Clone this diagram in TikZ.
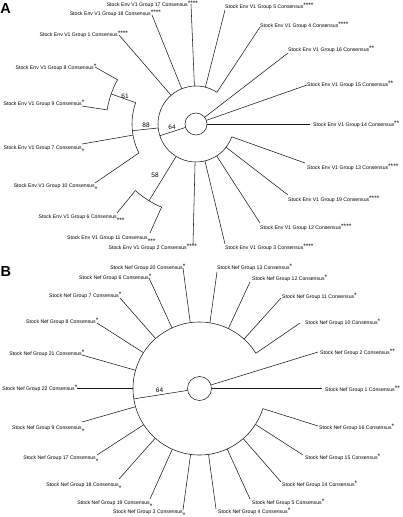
\documentclass[tikz,border=0pt]{standalone}
\usepackage{fontspec}
\setmainfont{Liberation Sans}

\newcommand{\supstars}[1]{\raisebox{1pt}{\fontsize{6.5}{6.5}\selectfont #1}}
\newcommand{\substars}[1]{\raisebox{-4.4pt}{\fontsize{6.5}{6.5}\selectfont #1}}

\begin{document}
\begin{tikzpicture}[x=1pt, y=-1pt,
  branch/.style={draw=black!90, line width=0.55pt},
  leafright/.style={anchor=base west, inner sep=0pt, font=\fontsize{5.15}{6}\selectfont},
  leafleft/.style={anchor=base east, inner sep=0pt, font=\fontsize{5.15}{6}\selectfont},
  support/.style={inner sep=0pt, font=\fontsize{6.5}{7}\selectfont},
  panellabel/.style={anchor=base west, inner sep=0pt, font=\fontsize{14.5}{15}\selectfont\bfseries}]

\useasboundingbox (0,0) rectangle (403,517);

% ---------------- Panel A: Env V1 ----------------
\node[panellabel] (lblA) at (0.3,13.3) {A};
\coordinate (cA) at (196,124);
\draw[branch] (cA) circle (11);

% inner clades with support values
\coordinate (e64s) at ([shift={(-198:11)}]cA);
\coordinate (e64t) at ([shift={(-198:38)}]cA);
\draw[branch] (e64s) -- (e64t);
\draw[branch] ([shift={(-56.6:38)}]cA) arc[start angle=-56.6, end angle=-340.3, radius=38];
\node[support] (e64) at (172,127.5) {64};

\coordinate (e88s) at ([shift={(-186:38)}]cA);
\coordinate (e88t) at ([shift={(-186:64)}]cA);
\draw[branch] (e88s) -- (e88t);
\draw[branch] ([shift={(-160.5:64)}]cA) arc[start angle=-160.5, end angle=-206.9, radius=64];
\node[support] (e88) at (146,125) {88};

\coordinate (e61s) at ([shift={(-160.5:64)}]cA);
\coordinate (e61t) at ([shift={(-160.5:90)}]cA);
\draw[branch] (e61s) -- (e61t);
\draw[branch] ([shift={(-150.6:90)}]cA) arc[start angle=-150.6, end angle=-171, radius=90];
\node[support] (e61) at (125,96) {61};

\coordinate (e58s) at ([shift={(-238.5:38)}]cA);
\coordinate (e58t) at ([shift={(-238.5:90)}]cA);
\draw[branch] (e58s) -- (e58t);
\draw[branch] ([shift={(-227.7:90)}]cA) arc[start angle=-227.7, end angle=-247.5, radius=90];
\node[support] (e58) at (155,175) {58};

% leaves off the root
\coordinate (e14s) at ([shift={(0:11)}]cA);
\coordinate (e14t) at (310,124);
\draw[branch] (e14s) -- (e14t);
\node[leafright] (e14) at (313,126.5) {Stock Env V1 Group 14 Consensus\supstars{**}};
\coordinate (e15s) at ([shift={(-19.4:11)}]cA);
\coordinate (e15t) at (307,85);
\draw[branch] (e15s) -- (e15t);
\node[leafright] (e15) at (307,86.5) {Stock Env V1 Group 15 Consensus\supstars{**}};
\coordinate (e16s) at ([shift={(-37.7:11)}]cA);
\coordinate (e16t) at (288,53);
\draw[branch] (e16s) -- (e16t);
\node[leafright] (e16) at (288,51) {Stock Env V1 Group 16 Consensus\supstars{**}};

% leaves off clade 64
\coordinate (e4s) at ([shift={(-56.6:38)}]cA);
\coordinate (e4t) at (260,27);
\draw[branch] (e4s) -- (e4t);
\node[leafright] (e4) at (260,27) {Stock Env V1 Group 4 Consensus\supstars{****}};
\coordinate (e5s) at ([shift={(-75.7:38)}]cA);
\coordinate (e5t) at (225,10);
\draw[branch] (e5s) -- (e5t);
\node[leafright] (e5) at (225,8) {Stock Env V1 Group 5 Consensus\supstars{****}};
\coordinate (e17s) at ([shift={(-92.4:38)}]cA);
\coordinate (e17t) at (191,4);
\draw[branch] (e17s) -- (e17t);
\node[leafleft] (e17) at (188,6) {Stock Env V1 Group 17 Consensus\rlap{\supstars{****}}};
\coordinate (e18s) at ([shift={(-112:38)}]cA);
\coordinate (e18t) at (152,15);
\draw[branch] (e18s) -- (e18t);
\node[leafleft] (e18) at (151,15.5) {Stock Env V1 Group 18 Consensus\rlap{\supstars{****}}};
\coordinate (e1s) at ([shift={(-130.9:38)}]cA);
\coordinate (e1t) at (119,35);
\draw[branch] (e1s) -- (e1t);
\node[leafleft] (e1) at (118,36) {Stock Env V1 Group 1 Consensus\rlap{\supstars{****}}};
\coordinate (e2s) at ([shift={(-268.6:38)}]cA);
\coordinate (e2t) at (193,244);
\draw[branch] (e2s) -- (e2t);
\node[leafleft] (e2) at (187,249) {Stock Env V1 Group 2 Consensus\rlap{\supstars{****}}};
\coordinate (e3s) at ([shift={(-283.6:38)}]cA);
\coordinate (e3t) at (225,244);
\draw[branch] (e3s) -- (e3t);
\node[leafright] (e3) at (225,249) {Stock Env V1 Group 3 Consensus\supstars{****}};
\coordinate (e12s) at ([shift={(-302.9:38)}]cA);
\coordinate (e12t) at (260,223);
\draw[branch] (e12s) -- (e12t);
\node[leafright] (e12) at (260,229) {Stock Env V1 Group 12 Consensus\supstars{****}};
\coordinate (e19s) at ([shift={(-322.3:38)}]cA);
\coordinate (e19t) at (288,195);
\draw[branch] (e19s) -- (e19t);
\node[leafright] (e19) at (288,201) {Stock Env V1 Group 19 Consensus\supstars{****}};
\coordinate (e13s) at ([shift={(-340.3:38)}]cA);
\coordinate (e13t) at (305,163);
\draw[branch] (e13s) -- (e13t);
\node[leafright] (e13) at (307,169) {Stock Env V1 Group 13 Consensus\supstars{****}};

% leaves off clades 88, 61 and 58
\coordinate (e7s) at ([shift={(-190:64)}]cA);
\coordinate (e7t) at (82,144);
\draw[branch] (e7s) -- (e7t);
\node[leafleft] (e7) at (82,149) {Stock Env V1 Group 7 Consensus\rlap{\substars{*}}};
\coordinate (e10s) at ([shift={(-206.9:64)}]cA);
\coordinate (e10t) at (95,183);
\draw[branch] (e10s) -- (e10t);
\node[leafleft] (e10) at (95,187) {Stock Env V1 Group 10 Consensus\rlap{\substars{*}}};
\coordinate (e8s) at ([shift={(-150.6:90)}]cA);
\coordinate (e8t) at (95,67);
\draw[branch] (e8s) -- (e8t);
\node[leafleft] (e8) at (94,69) {Stock Env V1 Group 8 Consensus\rlap{\supstars{*}}};
\coordinate (e9s) at ([shift={(-171:90)}]cA);
\coordinate (e9t) at (82,106);
\draw[branch] (e9s) -- (e9t);
\node[leafleft] (e9) at (82,105) {Stock Env V1 Group 9 Consensus\rlap{\supstars{*}}};
\coordinate (e6s) at ([shift={(-227.7:90)}]cA);
\coordinate (e6t) at (117,213);
\draw[branch] (e6s) -- (e6t);
\node[leafleft] (e6) at (117,218) {Stock Env V1 Group 6 Consensus\rlap{\substars{***}}};
\coordinate (e11s) at ([shift={(-247.5:90)}]cA);
\coordinate (e11t) at (150,233);
\draw[branch] (e11s) -- (e11t);
\node[leafleft] (e11) at (148,239) {Stock Env V1 Group 11 Consensus\rlap{\substars{***}}};

% ---------------- Panel B: Nef ----------------
\node[panellabel] (lblB) at (0.5,276.5) {B};
\coordinate (cB) at (199.5,388.5);
\draw[branch] (cB) circle (12);

\coordinate (n64s) at ([shift={(-189:12)}]cB);
\coordinate (n64t) at ([shift={(-189:66.5)}]cB);
\draw[branch] (n64s) -- (n64t);
\draw[branch] ([shift={(-32:66.5)}]cB) arc[start angle=-32, end angle=-342.4, radius=66.5];
\node[support] (n64) at (159.5,390) {64};

% leaves off the root
\coordinate (n1s) at ([shift={(0:12)}]cB);
\coordinate (n1t) at (322,388.5);
\draw[branch] (n1s) -- (n1t);
\node[leafright] (n1) at (325,391) {Stock Nef Group 1 Consensus\supstars{**}};
\coordinate (n2s) at ([shift={(-17.2:12)}]cB);
\coordinate (n2t) at (318,352);
\draw[branch] (n2s) -- (n2t);
\node[leafright] (n2) at (320,354) {Stock Nef Group 2 Consensus\supstars{**}};

% leaves off clade 64
\coordinate (n10s) at ([shift={(-32:66.5)}]cB);
\coordinate (n10t) at (300,323);
\draw[branch] (n10s) -- (n10t);
\node[leafright] (n10) at (305,324) {Stock Nef Group 10 Consensus\supstars{*}};
\coordinate (n11s) at ([shift={(-48:66.5)}]cB);
\coordinate (n11t) at (281,298);
\draw[branch] (n11s) -- (n11t);
\node[leafright] (n11) at (282,298) {Stock Nef Group 11 Consensus\supstars{*}};
\coordinate (n12s) at ([shift={(-64.3:66.5)}]cB);
\coordinate (n12t) at (250,282);
\draw[branch] (n12s) -- (n12t);
\node[leafright] (n12) at (252,280) {Stock Nef Group 12 Consensus\supstars{*}};
\coordinate (n13s) at ([shift={(-81:66.5)}]cB);
\coordinate (n13t) at (217,272);
\draw[branch] (n13s) -- (n13t);
\node[leafright] (n13) at (217,269) {Stock Nef Group 13 Consensus\supstars{*}};
\coordinate (n20s) at ([shift={(-98:66.5)}]cB);
\coordinate (n20t) at (183,268);
\draw[branch] (n20s) -- (n20t);
\node[leafleft] (n20) at (183,269) {Stock Nef Group 20 Consensus\rlap{\supstars{*}}};
\coordinate (n6s) at ([shift={(-114.4:66.5)}]cB);
\coordinate (n6t) at (149,278);
\draw[branch] (n6s) -- (n6t);
\node[leafleft] (n6) at (149,279) {Stock Nef Group 6 Consensus\rlap{\supstars{*}}};
\coordinate (n7s) at ([shift={(-131.3:66.5)}]cB);
\coordinate (n7t) at (120,298);
\draw[branch] (n7s) -- (n7t);
\node[leafleft] (n7) at (119,297) {Stock Nef Group 7 Consensus\rlap{\supstars{*}}};
\coordinate (n8s) at ([shift={(-147.4:66.5)}]cB);
\coordinate (n8t) at (97,323);
\draw[branch] (n8s) -- (n8t);
\node[leafleft] (n8) at (96,323) {Stock Nef Group 8 Consensus\rlap{\supstars{*}}};
\coordinate (n21s) at ([shift={(-164.1:66.5)}]cB);
\coordinate (n21t) at (82,355);
\draw[branch] (n21s) -- (n21t);
\node[leafleft] (n21) at (82,355) {Stock Nef Group 21 Consensus\rlap{\supstars{*}}};
\coordinate (n22s) at ([shift={(-180:66.5)}]cB);
\coordinate (n22t) at (77,388.5);
\draw[branch] (n22s) -- (n22t);
\node[leafleft] (n22) at (75,390) {Stock Nef Group 22 Consensus\rlap{\supstars{*}}};
\coordinate (n9s) at ([shift={(-195.9:66.5)}]cB);
\coordinate (n9t) at (82,422);
\draw[branch] (n9s) -- (n9t);
\node[leafleft] (n9) at (82,429) {Stock Nef Group 9 Consensus\rlap{\substars{*}}};
\coordinate (n17s) at ([shift={(-213:66.5)}]cB);
\coordinate (n17t) at (97,455);
\draw[branch] (n17s) -- (n17t);
\node[leafleft] (n17) at (96,459) {Stock Nef Group 17 Consensus\rlap{\substars{*}}};
\coordinate (n18s) at ([shift={(-228.3:66.5)}]cB);
\coordinate (n18t) at (119,479);
\draw[branch] (n18s) -- (n18t);
\node[leafleft] (n18) at (119,486) {Stock Nef Group 18 Consensus\rlap{\substars{*}}};
\coordinate (n19s) at ([shift={(-245.9:66.5)}]cB);
\coordinate (n19t) at (150,499);
\draw[branch] (n19s) -- (n19t);
\node[leafleft] (n19) at (150,504) {Stock Nef Group 19 Consensus\rlap{\substars{*}}};
\coordinate (n3s) at ([shift={(-262.3:66.5)}]cB);
\coordinate (n3t) at (183,510);
\draw[branch] (n3s) -- (n3t);
\node[leafleft] (n3) at (183,513.5) {Stock Nef Group 3 Consensus\rlap{\substars{*}}};
\coordinate (n4s) at ([shift={(-277.8:66.5)}]cB);
\coordinate (n4t) at (216,509);
\draw[branch] (n4s) -- (n4t);
\node[leafright] (n4) at (218,513.5) {Stock Nef Group 4 Consensus\supstars{*}};
\coordinate (n5s) at ([shift={(-294.6:66.5)}]cB);
\coordinate (n5t) at (250,499);
\draw[branch] (n5s) -- (n5t);
\node[leafright] (n5) at (252,504) {Stock Nef Group 5 Consensus\supstars{*}};
\coordinate (n14s) at ([shift={(-311.1:66.5)}]cB);
\coordinate (n14t) at (281,482);
\draw[branch] (n14s) -- (n14t);
\node[leafright] (n14) at (282,486) {Stock Nef Group 14 Consensus\supstars{*}};
\coordinate (n15s) at ([shift={(-327.3:66.5)}]cB);
\coordinate (n15t) at (303,455);
\draw[branch] (n15s) -- (n15t);
\node[leafright] (n15) at (305,459) {Stock Nef Group 15 Consensus\supstars{*}};
\coordinate (n16s) at ([shift={(-342.4:66.5)}]cB);
\coordinate (n16t) at (318,426);
\draw[branch] (n16s) -- (n16t);
\node[leafright] (n16) at (319,429) {Stock Nef Group 16 Consensus\supstars{*}};
\end{tikzpicture}
\end{document}
